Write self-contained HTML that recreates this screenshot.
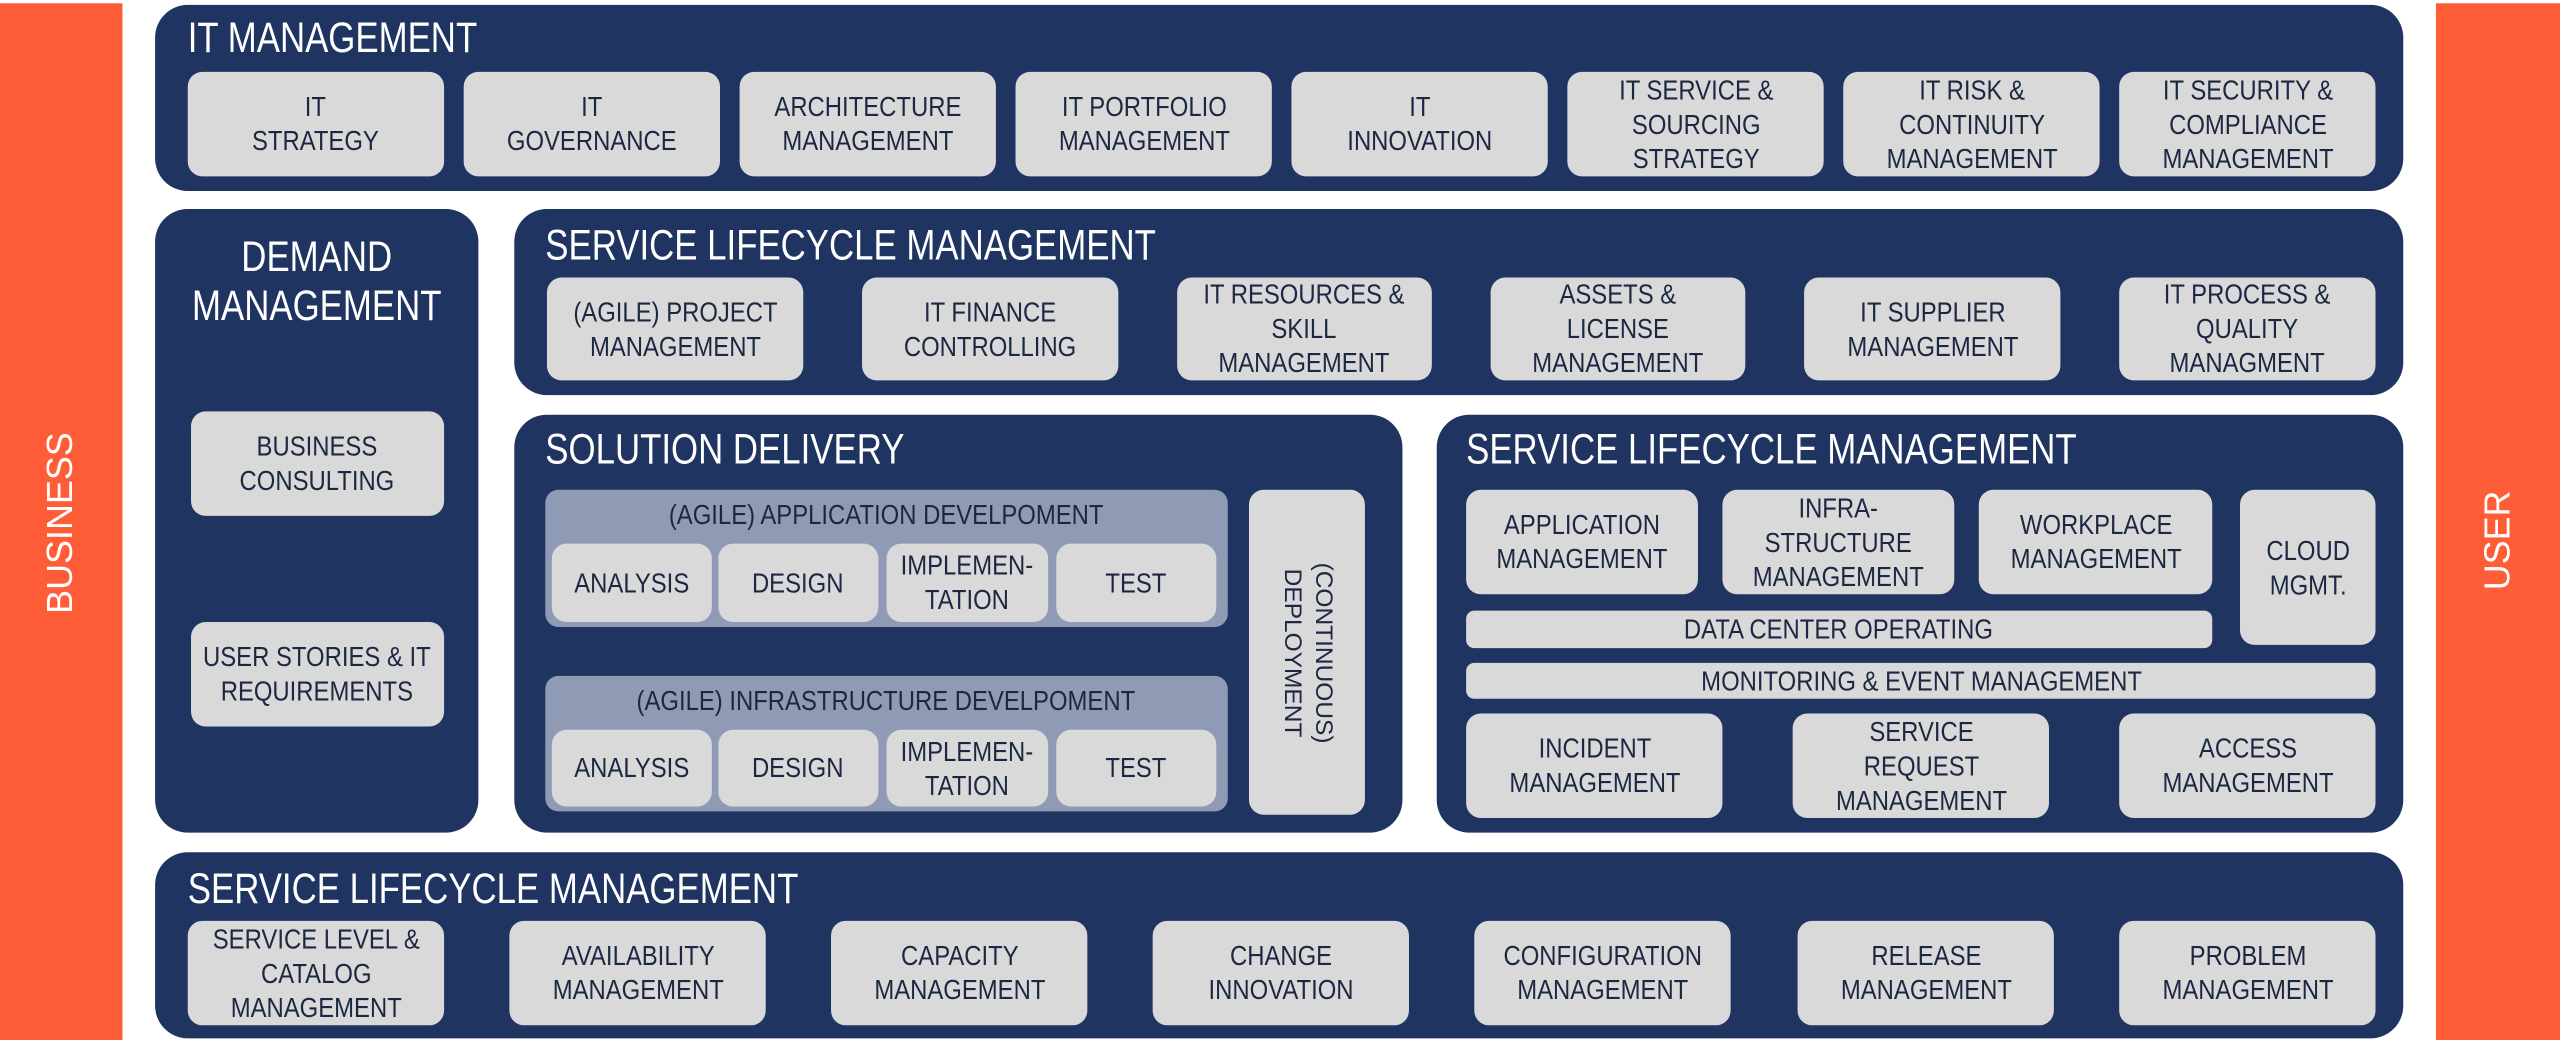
<!DOCTYPE html>
<html><head><meta charset="utf-8">
<style>
html,body{margin:0;padding:0;background:#fff;width:2560px;height:1044px;overflow:hidden}
#c{position:absolute;left:0;top:0;width:1568px;height:640px;transform:scale(1.632653);transform-origin:0 0;font-family:"Liberation Sans",sans-serif}
.a{position:absolute;box-sizing:border-box}
.or{background:#fe5d37}
.p{background:#1f3461;border-radius:20px}
.b{background:#d9d9d9;border-radius:9px;display:flex;align-items:center;justify-content:center;text-align:center;color:#1c2741;font-size:17px;line-height:21px}
.b span,.n{display:inline-block;transform:scaleX(.86);white-space:nowrap}
.s{background:#8f9bb5;border-radius:8px}
.t{position:absolute;color:#fff;font-size:26px;line-height:28px;white-space:nowrap;transform:scaleX(.82);transform-origin:0 0}
.v{position:absolute;color:#fff;font-size:22px;transform:rotate(-90deg);white-space:nowrap}
</style></head><body><div id="c">
<div class="a or" style="left:0;top:2px;width:75px;height:635px"></div>
<div class="a or" style="left:1492px;top:2px;width:76px;height:635px"></div>
<div class="v" style="left:-8px;top:318px;width:90px;text-align:center">BUSINESS</div>
<div class="v" style="left:1485px;top:318px;width:90px;text-align:center">USER</div>

<div class="a p" style="left:95px;top:3px;width:1377px;height:114px"></div>
<div class="t" style="left:115px;top:9px">IT MANAGEMENT</div>
<div class="a b" style="left:115px;top:44px;width:157px;height:64px"><span>IT<br>STRATEGY</span></div>
<div class="a b" style="left:284px;top:44px;width:157px;height:64px"><span>IT<br>GOVERNANCE</span></div>
<div class="a b" style="left:453px;top:44px;width:157px;height:64px"><span>ARCHITECTURE<br>MANAGEMENT</span></div>
<div class="a b" style="left:622px;top:44px;width:157px;height:64px"><span>IT PORTFOLIO<br>MANAGEMENT</span></div>
<div class="a b" style="left:791px;top:44px;width:157px;height:64px"><span>IT<br>INNOVATION</span></div>
<div class="a b" style="left:960px;top:44px;width:157px;height:64px"><span>IT SERVICE &amp;<br>SOURCING<br>STRATEGY</span></div>
<div class="a b" style="left:1129px;top:44px;width:157px;height:64px"><span>IT RISK &amp;<br>CONTINUITY<br>MANAGEMENT</span></div>
<div class="a b" style="left:1298px;top:44px;width:157px;height:64px"><span>IT SECURITY &amp;<br>COMPLIANCE<br>MANAGEMENT</span></div>

<div class="a p" style="left:95px;top:128px;width:198px;height:382px"></div>
<div class="t" style="left:95px;top:142px;width:198px;text-align:center;line-height:30px;transform-origin:50% 0">DEMAND<br>MANAGEMENT</div>
<div class="a b" style="left:117px;top:252px;width:155px;height:64px"><span>BUSINESS<br>CONSULTING</span></div>
<div class="a b" style="left:117px;top:381px;width:155px;height:64px"><span>USER STORIES &amp; IT<br>REQUIREMENTS</span></div>

<div class="a p" style="left:315px;top:128px;width:1157px;height:114px"></div>
<div class="t" style="left:334px;top:136px">SERVICE LIFECYCLE MANAGEMENT</div>
<div class="a b" style="left:335px;top:170px;width:157px;height:63px"><span>(AGILE) PROJECT<br>MANAGEMENT</span></div>
<div class="a b" style="left:528px;top:170px;width:157px;height:63px"><span>IT FINANCE<br>CONTROLLING</span></div>
<div class="a b" style="left:721px;top:170px;width:156px;height:63px"><span>IT RESOURCES &amp;<br>SKILL<br>MANAGEMENT</span></div>
<div class="a b" style="left:913px;top:170px;width:156px;height:63px"><span>ASSETS &amp;<br>LICENSE<br>MANAGEMENT</span></div>
<div class="a b" style="left:1105px;top:170px;width:157px;height:63px"><span>IT SUPPLIER<br>MANAGEMENT</span></div>
<div class="a b" style="left:1298px;top:170px;width:157px;height:63px"><span>IT PROCESS &amp;<br>QUALITY<br>MANAGMENT</span></div>

<div class="a p" style="left:315px;top:254px;width:544px;height:256px"></div>
<div class="t" style="left:334px;top:261px">SOLUTION DELIVERY</div>
<div class="a s" style="left:334px;top:300px;width:418px;height:84px"></div>
<div class="a" style="left:334px;top:306px;width:418px;text-align:center;font-size:17px;color:#1c2741"><span class="n">(AGILE) APPLICATION DEVELPOMENT</span></div>
<div class="a b" style="left:338px;top:333px;width:98px;height:48px"><span>ANALYSIS</span></div>
<div class="a b" style="left:440px;top:333px;width:98px;height:48px"><span>DESIGN</span></div>
<div class="a b" style="left:543px;top:333px;width:99px;height:48px"><span>IMPLEMEN-<br>TATION</span></div>
<div class="a b" style="left:647px;top:333px;width:98px;height:48px"><span>TEST</span></div>
<div class="a s" style="left:334px;top:414px;width:418px;height:83px"></div>
<div class="a" style="left:334px;top:420px;width:418px;text-align:center;font-size:17px;color:#1c2741"><span class="n">(AGILE) INFRASTRUCTURE DEVELPOMENT</span></div>
<div class="a b" style="left:338px;top:447px;width:98px;height:47px"><span>ANALYSIS</span></div>
<div class="a b" style="left:440px;top:447px;width:98px;height:47px"><span>DESIGN</span></div>
<div class="a b" style="left:543px;top:447px;width:99px;height:47px"><span>IMPLEMEN-<br>TATION</span></div>
<div class="a b" style="left:647px;top:447px;width:98px;height:47px"><span>TEST</span></div>
<div class="a b" style="left:765px;top:300px;width:71px;height:199px"></div>
<div class="a" style="left:700px;top:380px;width:200px;height:40px;transform:rotate(90deg);text-align:center;font-size:15px;line-height:19px;color:#1c2741">(CONTINUOUS)<br>DEPLOYMENT</div>

<div class="a p" style="left:880px;top:254px;width:592px;height:256px"></div>
<div class="t" style="left:898px;top:261px">SERVICE LIFECYCLE MANAGEMENT</div>
<div class="a b" style="left:898px;top:300px;width:142px;height:64px"><span>APPLICATION<br>MANAGEMENT</span></div>
<div class="a b" style="left:1055px;top:300px;width:142px;height:64px"><span>INFRA-<br>STRUCTURE<br>MANAGEMENT</span></div>
<div class="a b" style="left:1212px;top:300px;width:143px;height:64px"><span>WORKPLACE<br>MANAGEMENT</span></div>
<div class="a b" style="left:1372px;top:300px;width:83px;height:95px"><span>CLOUD<br>MGMT.</span></div>
<div class="a b" style="left:898px;top:374px;width:457px;height:23px;border-radius:5px"><span>DATA CENTER OPERATING</span></div>
<div class="a b" style="left:898px;top:406px;width:557px;height:22px;border-radius:5px"><span>MONITORING &amp; EVENT MANAGEMENT</span></div>
<div class="a b" style="left:898px;top:437px;width:157px;height:64px"><span>INCIDENT<br>MANAGEMENT</span></div>
<div class="a b" style="left:1098px;top:437px;width:157px;height:64px"><span>SERVICE<br>REQUEST<br>MANAGEMENT</span></div>
<div class="a b" style="left:1298px;top:437px;width:157px;height:64px"><span>ACCESS<br>MANAGEMENT</span></div>

<div class="a p" style="left:95px;top:522px;width:1377px;height:114px"></div>
<div class="t" style="left:115px;top:530px">SERVICE LIFECYCLE MANAGEMENT</div>
<div class="a b" style="left:115px;top:564px;width:157px;height:64px"><span>SERVICE LEVEL &amp;<br>CATALOG<br>MANAGEMENT</span></div>
<div class="a b" style="left:312px;top:564px;width:157px;height:64px"><span>AVAILABILITY<br>MANAGEMENT</span></div>
<div class="a b" style="left:509px;top:564px;width:157px;height:64px"><span>CAPACITY<br>MANAGEMENT</span></div>
<div class="a b" style="left:706px;top:564px;width:157px;height:64px"><span>CHANGE<br>INNOVATION</span></div>
<div class="a b" style="left:903px;top:564px;width:157px;height:64px"><span>CONFIGURATION<br>MANAGEMENT</span></div>
<div class="a b" style="left:1101px;top:564px;width:157px;height:64px"><span>RELEASE<br>MANAGEMENT</span></div>
<div class="a b" style="left:1298px;top:564px;width:157px;height:64px"><span>PROBLEM<br>MANAGEMENT</span></div>
</div></body></html>
